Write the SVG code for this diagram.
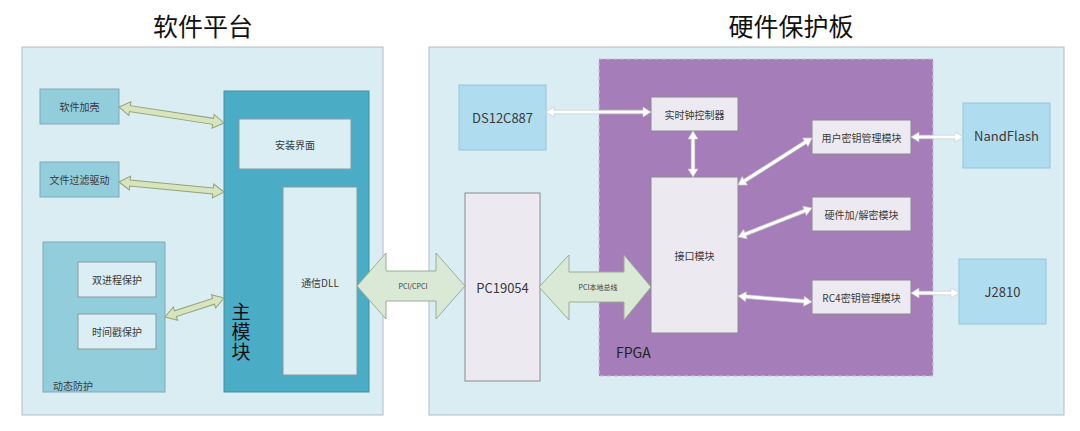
<svg xmlns="http://www.w3.org/2000/svg" width="1080" height="431" viewBox="0 0 1080 431">
<style>
text{font-family:"Noto Sans CJK SC","Noto Sans",sans-serif;fill:#3a3a3a;dominant-baseline:central;text-anchor:middle}
.t{font-size:10px}
.m{font-size:13px}
.title{font-size:25px;fill:#111}
.panel{fill:#daedf3;stroke:#b4bcc0;stroke-width:1}
.lb{fill:#92cddc;stroke:#7eaab8;stroke-width:1}
.wb{fill:#daeef3;stroke:#8a9aa0;stroke-width:1}
.chip{fill:#b0dcef;stroke:#93c6dc;stroke-width:1}
.lav{fill:#ece9f1;stroke:#8a8a90;stroke-width:1}
.fat{fill:#d7e4bd;stroke:#95a37a;stroke-width:1}
.pci{fill:#d9e9d5;stroke:#9aae98;stroke-width:1}
.wa{fill:#fff;stroke:#c8c8cc;stroke-width:0.6}
.big{font-size:19px;fill:#111;writing-mode:vertical-rl;letter-spacing:1px}
</style>
<text class="title" x="203" y="25">软件平台</text>
<text class="title" x="791" y="25">硬件保护板</text>
<g id="software-platform">
<rect class="panel" x="22" y="47" width="361" height="368"/>
</g>
<g id="hardware-board">
<rect class="panel" x="429" y="47" width="635" height="368"/>
</g>
<g id="fpga">
<rect x="599" y="59" width="334" height="317" fill="#a57db8" stroke="#cdbcdc" stroke-width="1.2" stroke-dasharray="4,3"/>
<text x="616" y="352" style="font-size:14px;text-anchor:start;fill:#222">FPGA</text>
</g>
<g id="soft-shell"><rect class="lb" x="40" y="89" width="79" height="35"/><text class="t" x="79.5" y="106.5">软件加壳</text></g>
<g id="file-filter"><rect class="lb" x="40" y="162" width="79" height="35"/><text class="t" x="79.5" y="179.5">文件过滤驱动</text></g>
<g id="dynamic-protect">
<rect class="lb" x="43" y="242" width="122" height="150"/>
<text class="t" x="53" y="385" style="text-anchor:start">动态防护</text>
</g>
<g id="dual-process"><rect class="wb" x="78" y="262" width="78" height="35"/><text class="t" x="117" y="279.5">双进程保护</text></g>
<g id="timestamp"><rect class="wb" x="78" y="314" width="78" height="35"/><text class="t" x="117" y="331.5">时间戳保护</text></g>
<g id="main-module">
<rect x="224" y="91" width="145" height="301" fill="#4bacc6" stroke="#3e8fa5" stroke-width="1"/>
<text class="big" x="241" y="332">主模块</text>
</g>
<g id="install-ui"><rect class="wb" x="239" y="119" width="112" height="50"/><text class="t" x="295" y="144">安装界面</text></g>
<g id="comm-dll"><rect class="wb" x="283" y="187" width="74" height="188"/><text class="t" x="320" y="282">通信DLL</text></g>
<g id="ds12c887"><rect class="chip" x="459" y="85" width="87" height="65"/><text class="m" x="502.5" y="117.5">DS12C887</text></g>
<g id="pc19054"><rect class="lav" x="465" y="193" width="75" height="188"/><text class="m" x="502.5" y="287">PC19054</text></g>
<g id="rtc"><rect class="lav" x="651" y="97" width="87" height="34"/><text class="t" x="694.5" y="114">实时钟控制器</text></g>
<g id="interface"><rect class="lav" x="651" y="177" width="87" height="156"/><text class="t" x="694.5" y="255">接口模块</text></g>
<g id="user-key"><rect class="lav" x="812" y="120" width="99" height="34"/><text class="t" x="861.5" y="137">用户密钥管理模块</text></g>
<g id="hw-crypto"><rect class="lav" x="812" y="197" width="99" height="34"/><text class="t" x="861.5" y="214">硬件加/解密模块</text></g>
<g id="rc4-key"><rect class="lav" x="812" y="280" width="99" height="34"/><text class="t" x="861.5" y="297">RC4密钥管理模块</text></g>
<g id="nandflash"><rect class="chip" x="963" y="103" width="87" height="65"/><text class="m" x="1006.5" y="135.5">NandFlash</text></g>
<g id="j2810"><rect class="chip" x="959" y="259" width="87" height="65"/><text class="m" x="1002.5" y="291.5">J2810</text></g>
<g id="connectors">
<polygon class="fat" transform="translate(119,107) rotate(8.66)" points="0,0 11,-7 11,-3 95.2,-3 95.2,-7 106.2,0 95.2,7 95.2,3 11,3 11,7"/>
<polygon class="fat" transform="translate(119,182) rotate(5.44)" points="0,0 11,-7 11,-3 94.5,-3 94.5,-7 105.5,0 94.5,7 94.5,3 11,3 11,7"/>
<polygon class="fat" transform="translate(165,317) rotate(-17.85)" points="0,0 11,-7 11,-3 51,-3 51,-7 62,0 51,7 51,3 11,3 11,7"/>
<polygon class="pci" points="357,286 386,253 386,271 436,271 436,253 465,286 436,319 436,301 386,301 386,319"/>
<text x="413" y="286" style="font-size:7px">PCI/CPCI</text>
<polygon class="pci" points="539,287 569,255 569,272 624,272 624,255 651,287 624,320 624,302 569,302 569,320"/>
<text x="598" y="287" style="font-size:7px">PCI本地总线</text>
<polygon class="wa" transform="translate(546,112)" points="0,0 8,-5 8,-1.8 97,-1.8 97,-5 105,0 97,5 97,1.8 8,1.8 8,5"/>
<polygon class="wa" transform="translate(693,131) rotate(90)" points="0,0 8,-5 8,-1.8 38,-1.8 38,-5 46,0 38,5 38,1.8 8,1.8 8,5"/>
<polygon class="wa" transform="translate(738,185) rotate(-32.4)" points="0,0 8,-5 8,-1.8 79.7,-1.8 79.7,-5 87.7,0 79.7,5 79.7,1.8 8,1.8 8,5"/>
<polygon class="wa" transform="translate(738,237) rotate(-21.4)" points="0,0 8,-5 8,-1.8 71.5,-1.8 71.5,-5 79.5,0 71.5,5 71.5,1.8 8,1.8 8,5"/>
<polygon class="wa" transform="translate(738,296) rotate(4.6)" points="0,0 8,-5 8,-1.8 66.2,-1.8 66.2,-5 74.2,0 66.2,5 66.2,1.8 8,1.8 8,5"/>
<polygon class="wa" transform="translate(911,137)" points="0,0 8,-5 8,-1.8 44,-1.8 44,-5 52,0 44,5 44,1.8 8,1.8 8,5"/>
<polygon class="wa" transform="translate(911,293)" points="0,0 8,-5 8,-1.8 40,-1.8 40,-5 48,0 40,5 40,1.8 8,1.8 8,5"/>
</g>
</svg>
